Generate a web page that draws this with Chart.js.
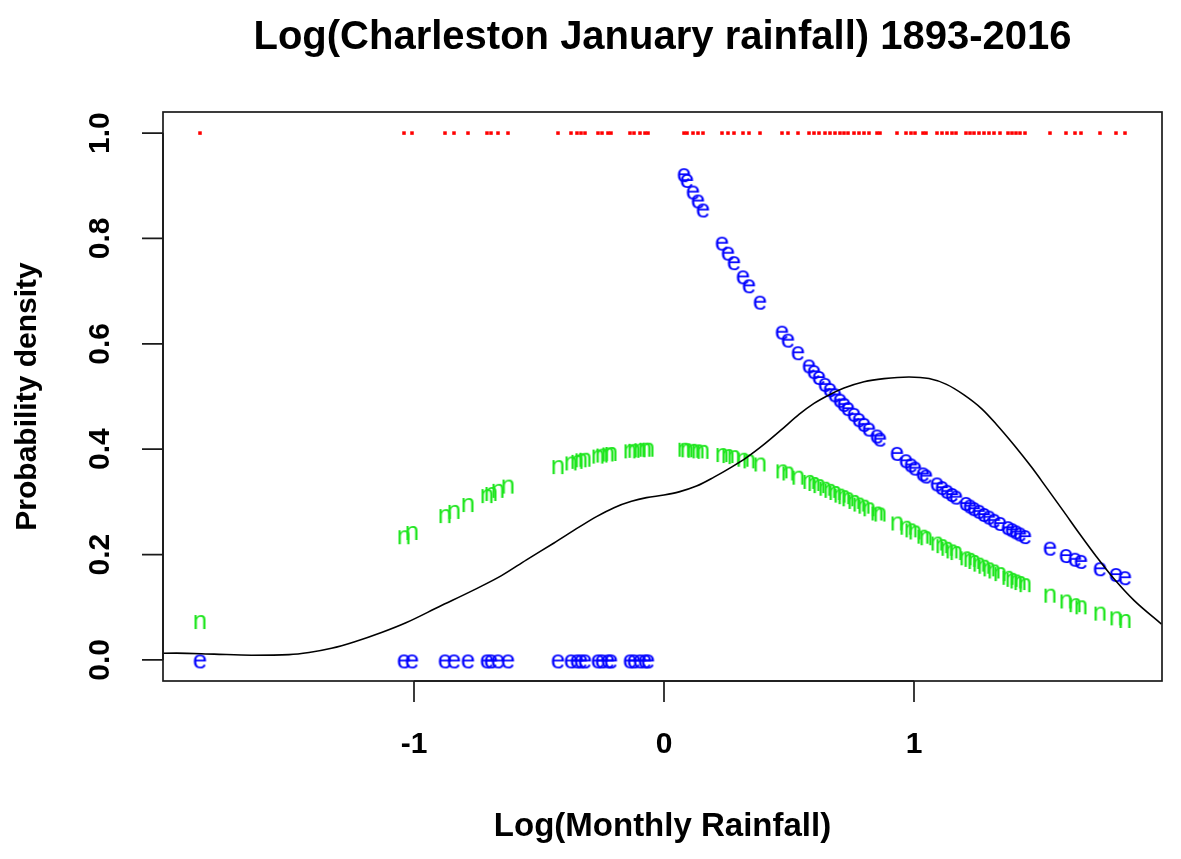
<!DOCTYPE html>
<html>
<head>
<meta charset="utf-8">
<script src="https://cdn.jsdelivr.net/npm/chart.js@4.4.1/dist/chart.umd.min.js"></script>
<style>
  html, body { margin: 0; padding: 0; background: #fff; }
  #wrap { width: 1181px; height: 859px; }
</style>
</head>
<body>
<div id="wrap"><canvas id="c" width="1181" height="859"></canvas></div>
<script>
// ---- data ----
const logRain = [-1.856, -1.04, -1.008, -0.876, -0.84, -0.784, -0.708, -0.692, -0.664, -0.624,
  -0.424, -0.372, -0.348, -0.332, -0.316, -0.264, -0.248, -0.224, -0.212, -0.136, -0.12, -0.096, -0.076, -0.064,
  0.08, 0.092, 0.116, 0.136, 0.156, 0.232, 0.256, 0.28, 0.316, 0.34, 0.384, 0.472, 0.496, 0.536, 0.58, 0.60,
  0.62, 0.644, 0.664, 0.684, 0.704, 0.72, 0.736, 0.76, 0.78, 0.80, 0.82, 0.852, 0.864, 0.932, 0.968, 0.988,
  1.004, 1.036, 1.048, 1.092, 1.112, 1.132, 1.152, 1.168, 1.208, 1.224, 1.24, 1.26, 1.28, 1.30, 1.32, 1.344,
  1.376, 1.392, 1.408, 1.424, 1.444, 1.544, 1.608, 1.644, 1.668, 1.744, 1.808, 1.844];

const expDensity = [0, 0, 0, 0, 0, 0, 0, 0, 0, 0,
  0, 0, 0, 0, 0, 0, 0, 0, 0, 0, 0, 0, 0, 0,
  0.923, 0.912, 0.890, 0.873, 0.856, 0.793, 0.774, 0.756, 0.729, 0.712, 0.681, 0.624, 0.609, 0.585, 0.560, 0.549,
  0.538, 0.525, 0.515, 0.505, 0.495, 0.487, 0.479, 0.468, 0.458, 0.449, 0.440, 0.427, 0.421, 0.394, 0.380, 0.372,
  0.366, 0.355, 0.351, 0.336, 0.329, 0.322, 0.316, 0.311, 0.299, 0.294, 0.289, 0.284, 0.278, 0.273, 0.267, 0.261,
  0.253, 0.249, 0.245, 0.241, 0.236, 0.214, 0.200, 0.193, 0.189, 0.175, 0.164, 0.158];

const normDensity = [0.071, 0.232, 0.240, 0.272, 0.280, 0.293, 0.310, 0.314, 0.320, 0.328,
  0.365, 0.372, 0.375, 0.378, 0.379, 0.385, 0.387, 0.389, 0.390, 0.395, 0.396, 0.397, 0.398, 0.398,
  0.398, 0.397, 0.396, 0.395, 0.394, 0.388, 0.386, 0.384, 0.379, 0.376, 0.370, 0.357, 0.353, 0.345, 0.337, 0.333,
  0.329, 0.324, 0.320, 0.316, 0.311, 0.308, 0.304, 0.299, 0.294, 0.290, 0.285, 0.277, 0.275, 0.258, 0.250, 0.245,
  0.241, 0.233, 0.230, 0.220, 0.215, 0.210, 0.205, 0.202, 0.192, 0.189, 0.185, 0.180, 0.176, 0.171, 0.167, 0.162,
  0.155, 0.151, 0.148, 0.145, 0.141, 0.121, 0.110, 0.103, 0.099, 0.087, 0.078, 0.073];

const rugLevel = 1.0;

const kdeX = [-2.11, -1.95, -1.8, -1.65, -1.5, -1.42, -1.33, -1.24, -1.13, -1.03, -0.9, -0.76, -0.65, -0.55,
  -0.44, -0.34, -0.27, -0.2, -0.13, -0.07, 0.0, 0.06, 0.13, 0.2, 0.27, 0.33, 0.4, 0.47, 0.54, 0.6, 0.66,
  0.72, 0.8, 0.88, 0.98, 1.06, 1.13, 1.2, 1.27, 1.33, 1.4, 1.47, 1.53, 1.6, 1.66, 1.73, 1.8, 1.88, 1.99];
const kdeY = [0.012, 0.013, 0.011, 0.009, 0.010, 0.014, 0.022, 0.034, 0.052, 0.071, 0.101, 0.133, 0.160, 0.190,
  0.222, 0.252, 0.272, 0.289, 0.301, 0.308, 0.313, 0.319, 0.330, 0.347, 0.366, 0.384, 0.409, 0.437, 0.466, 0.487, 0.503,
  0.516, 0.528, 0.534, 0.537, 0.534, 0.523, 0.503, 0.477, 0.447, 0.408, 0.366, 0.327, 0.281, 0.241, 0.196, 0.154, 0.113, 0.068];

const xTicks = [-1, 0, 1];
const xTickLabels = ['-1', '0', '1'];
const yTicks = [0, 0.2, 0.4, 0.6, 0.8, 1.0];
const yTickLabels = ['0.0', '0.2', '0.4', '0.6', '0.8', '1.0'];

const titleText = 'Log(Charleston January rainfall) 1893-2016';
const xTitle = 'Log(Monthly Rainfall)';
const yTitle = 'Probability density';

// ---- styling ----
const FAMILY = '"Liberation Sans", Arial, Helvetica, sans-serif';
const TICK = 21;

function glyph(ch, color, size, dy) {
  const c = document.createElement('canvas');
  c.width = Math.ceil(size * 1.1);
  c.height = Math.ceil(size * 1.1);
  const g = c.getContext('2d');
  g.fillStyle = color;
  g.font = size + 'px ' + FAMILY;
  g.textAlign = 'center';
  g.textBaseline = 'alphabetic';
  g.fillText(ch, c.width / 2, c.height / 2 + 0.26 * size + dy);
  return c;
}
const eGlyph = glyph('e', '#0000ff', 26, 1.5);
const nGlyph = glyph('n', '#1ee61e', 26, 0);

const rAxes = {
  id: 'rAxes',
  afterDraw(chart) {
    const { ctx, chartArea: a, scales: { x, y } } = chart;
    ctx.save();
    ctx.strokeStyle = '#1a1a1a';
    ctx.lineWidth = 1.7;
    ctx.strokeRect(a.left, a.top, a.right - a.left, a.bottom - a.top);
    ctx.beginPath();
    const xa = x.getPixelForValue(xTicks[0]), xb = x.getPixelForValue(xTicks[xTicks.length - 1]);
    ctx.moveTo(xa, a.bottom); ctx.lineTo(xb, a.bottom);
    xTicks.forEach(v => { const p = x.getPixelForValue(v); ctx.moveTo(p, a.bottom); ctx.lineTo(p, a.bottom + TICK); });
    const ya = y.getPixelForValue(yTicks[0]), yb = y.getPixelForValue(yTicks[yTicks.length - 1]);
    ctx.moveTo(a.left, ya); ctx.lineTo(a.left, yb);
    yTicks.forEach(v => { const p = y.getPixelForValue(v); ctx.moveTo(a.left, p); ctx.lineTo(a.left - TICK, p); });
    ctx.stroke();
    ctx.fillStyle = '#000';
    ctx.font = 'bold 30px ' + FAMILY;
    ctx.textAlign = 'center';
    ctx.textBaseline = 'middle';
    xTicks.forEach((v, i) => ctx.fillText(xTickLabels[i], x.getPixelForValue(v), a.bottom + 64));
    yTicks.forEach((v, i) => {
      ctx.save();
      ctx.translate(a.left - 62, y.getPixelForValue(v));
      ctx.rotate(-Math.PI / 2);
      ctx.fillText(yTickLabels[i], 0, 0);
      ctx.restore();
    });
    ctx.restore();
  }
};

const kdePts = kdeX.map((v, i) => ({ x: v, y: kdeY[i] }));
const rugPts = logRain.map(v => ({ x: v, y: rugLevel }));
const expPts = logRain.map((v, i) => ({ x: v, y: expDensity[i] }));
const normPts = logRain.map((v, i) => ({ x: v, y: normDensity[i] }));

new Chart(document.getElementById('c'), {
  type: 'scatter',
  data: {
    datasets: [
      { label: 'density', type: 'line', data: kdePts, showLine: true, borderColor: '#000', borderWidth: 1.6,
        pointRadius: 0, cubicInterpolationMode: 'monotone', fill: false },
      { label: 'normal', data: normPts, pointStyle: nGlyph, pointRadius: 5 },
      { label: 'exponential', data: expPts, pointStyle: eGlyph, pointRadius: 5 },
      { label: 'data', data: rugPts, pointStyle: 'rect', pointRadius: 2.5, backgroundColor: '#ff0000', borderColor: '#ff0000', borderWidth: 0 }
    ]
  },
  options: {
    responsive: false,
    animation: false,
    devicePixelRatio: 1,
    layout: { padding: { left: 0, right: 19, top: 0, bottom: 0 } },
    plugins: {
      legend: { display: false },
      tooltip: { enabled: false },
      title: {
        display: true, text: titleText, color: '#000', fullSize: false,
        font: { family: FAMILY, size: 40, weight: 'bold' },
        padding: { top: 14, bottom: 50 }
      }
    },
    scales: {
      x: {
        type: 'linear', min: -2.004, max: 1.992,
        grid: { display: false }, border: { display: false }, ticks: { display: false },
        title: { display: true, text: xTitle, color: '#000', font: { family: FAMILY, size: 33, weight: 'bold' }, padding: { top: 0, bottom: 12 } },
        afterFit: s => { s.height = 178; }
      },
      y: {
        type: 'linear', min: -0.04, max: 1.04,
        grid: { display: false }, border: { display: false }, ticks: { display: false },
        title: { display: true, text: yTitle, color: '#000', font: { family: FAMILY, size: 30, weight: 'bold' }, padding: { top: 10, bottom: 0 } },
        afterFit: s => { s.width = 163; }
      }
    }
  },
  plugins: [rAxes]
});
</script>
</body>
</html>
